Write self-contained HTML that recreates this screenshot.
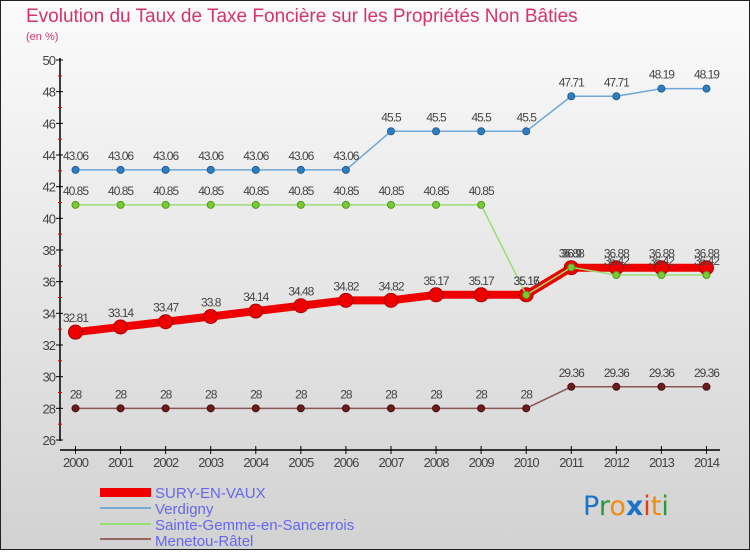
<!DOCTYPE html>
<html><head><meta charset="utf-8"><style>
body{margin:0}
#c{width:750px;height:550px;position:relative;font-family:"Liberation Sans",sans-serif}
</style></head><body>
<div id="c">
<svg id="s" width="750" height="550" xmlns="http://www.w3.org/2000/svg">
<defs><linearGradient id="bg" x1="0" y1="0" x2="0" y2="1"><stop offset="0" stop-color="#fbfbfb"/><stop offset="1" stop-color="#d2d2d2"/></linearGradient></defs>
<rect x="0.5" y="0.5" width="749" height="549" fill="url(#bg)" stroke="#222"/>
<text x="26" y="22" font-size="19" fill="#d6336a">Evolution du Taux de Taxe Foncière sur les Propriétés Non Bâties</text>
<text x="26" y="40" font-size="11" fill="#d6336a">(en %)</text>
<g id="axes"></g><g id="series"></g>
<g>
<rect x="100" y="488" width="51" height="9" fill="#ee0000"/>
<text x="155" y="498" font-size="15" fill="#6666ee">SURY-EN-VAUX</text>
<rect x="100" y="507" width="51" height="2" fill="#7aabcf"/>
<text x="155" y="514" font-size="15" fill="#6666ee">Verdigny</text>
<rect x="100" y="523" width="51" height="2" fill="#99dd77"/>
<text x="155" y="530" font-size="15" fill="#6666ee">Sainte-Gemme-en-Sancerrois</text>
<rect x="100" y="538" width="51" height="2" fill="#996666"/>
<text x="155" y="546" font-size="15" fill="#6666ee">Menetou-Râtel</text>
</g>
<g font-size="27" font-family="'DejaVu Sans',sans-serif">
<text x="583" y="515"><tspan fill="#1a73c9">P</tspan><tspan fill="#2a9a3a">r</tspan><tspan fill="#f08a10">o</tspan><tspan fill="#1a73c9" font-weight="bold">x</tspan><tspan fill="#e83a10">i</tspan><tspan fill="#f08a10">t</tspan><tspan fill="#2a9a3a">i</tspan></text>
</g>
</svg>
</div>
<script>
const years=[2000,2001,2002,2003,2004,2005,2006,2007,2008,2009,2010,2011,2012,2013,2014];
const yTicks=[26,28,30,32,34,36,38,40,42,44,46,48,50];
const sury=[32.81,33.14,33.47,33.8,34.14,34.48,34.82,34.82,35.17,35.17,35.17,36.88,36.88,36.88,36.88];
const verdigny=[43.06,43.06,43.06,43.06,43.06,43.06,43.06,45.5,45.5,45.5,45.5,47.71,47.71,48.19,48.19];
const sainteGemme=[40.85,40.85,40.85,40.85,40.85,40.85,40.85,40.85,40.85,40.85,35.16,36.9,36.42,36.42,36.42];
const menetou=[28,28,28,28,28,28,28,28,28,28,28,29.36,29.36,29.36,29.36];
const NS="http://www.w3.org/2000/svg";
const X=i=>75.5+i*45.07, Y=v=>440-(v-26)*(380/24);
function mk(t,a,p){const e=document.createElementNS(NS,t);for(const k in a)e.setAttribute(k,a[k]);p.appendChild(e);return e;}
const ax=document.getElementById('axes');
mk('line',{x1:60,y1:58,x2:60,y2:441,stroke:'#000','stroke-width':1.5},ax);
mk('line',{x1:60,y1:450,x2:720,y2:450,stroke:'#000','stroke-width':1.5},ax);
yTicks.forEach(v=>{
 mk('line',{x1:56,x2:63,y1:Y(v),y2:Y(v),stroke:'#000'},ax);
 if(v<50)mk('line',{x1:58,x2:62,y1:Y(v+1),y2:Y(v+1),stroke:'#e00'},ax);
 const t=mk('text',{x:55,y:Y(v)+5,'font-size':13,fill:'#444','text-anchor':'end','letter-spacing':'-1'},ax);
 t.textContent=v;
 
 
});
years.forEach((yr,i)=>{
 mk('line',{x1:X(i),x2:X(i),y1:446,y2:454,stroke:'#000'},ax);
 const t=mk('text',{x:X(i),y:467,'font-size':13,fill:'#444','text-anchor':'middle','letter-spacing':'-1'},ax);
 t.textContent=yr;
 
 
});
const sg=document.getElementById('series');
function draw(vals,name,color,w,r,dot,dotStroke){
 const g=mk('g',{},sg);
 
 
 const pts=vals.map((v,i)=>X(i)+','+Y(v)).join(' ');
 const l=mk('polyline',{points:pts,fill:'none',stroke:color,'stroke-width':w,'stroke-linejoin':'round'},g);
 
 vals.forEach((v,i)=>{
  const c=mk('circle',{cx:X(i),cy:Y(v),r:r,fill:dot,stroke:dotStroke,'stroke-width':1},g);
  
  
  const t=mk('text',{x:X(i),y:Y(v)-10,'font-size':12,fill:'#444','text-anchor':'middle','letter-spacing':'-1'},g);
  t.textContent=v;
  
  
 });
}
draw(menetou,'menetou','#8a5555',1.5,3.5,'#6b1d1d','#4a1010');
draw(verdigny,'verdigny','#6fa8d8',1.5,3.5,'#2f7fc0','#1f5f9a');
draw(sury,'sury','#ee0000',8,7,'#ee0000','#aa0000');
draw(sainteGemme,'sainte-gemme','#99dd77',1.5,3.5,'#77cc33','#559922');
</script>
</body></html>
